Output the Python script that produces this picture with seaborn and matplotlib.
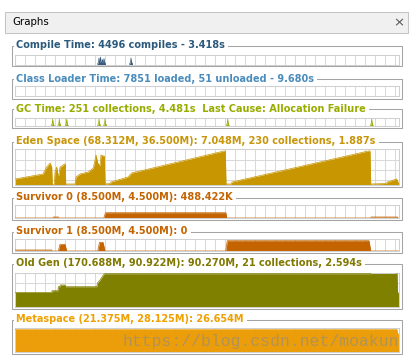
import numpy as np
import matplotlib
matplotlib.use("Agg")
import matplotlib.pyplot as plt
from matplotlib.patches import Rectangle
import seaborn as sns

# ---- data (x = time in sample pixels across the strip, y = level) ----
compile_peaks = [84, 85.5, 87.5, 89, 116]
compile_heights = [6.5, 7.5, 5, 6, 6.5]

gc_peaks = [37.7, 44.3, 51.7, 84, 90, 212.7, 356.7]
gc_heights = [7.3, 7.3, 7.3, 7.3, 7.3, 7.3, 7.3]

eden_t = [0, 28, 31, 35, 36.7, 37.3, 39.3, 40, 41.7, 43, 44, 45, 47, 49.3, 50.3,
          50.7, 60, 61, 65, 73.3, 78.3, 80, 81, 82.7, 85, 86, 88.3, 89.3, 90,
          95, 96, 113, 116.7, 209, 210.3, 211, 216, 217, 353.3, 355, 355.7,
          371, 372.3, 381.7, 382.7, 383.5]
eden_h = [6, 11, 17, 22, 18, 0.7, 0.7, 13, 18, 10, 10, 18, 19, 21, 21,
          1, 1, 8, 11, 13, 17, 25, 30, 22, 19, 30, 29, 29, 1,
          1.5, 3, 8, 12, 34, 34, 1, 1, 3, 34, 34, 1,
          1.5, 3, 6, 3, 3]

s0_t = [0, 38, 38.3, 43.3, 43.6, 88.8, 90.5, 210.8, 211.8, 355.8, 356.1, 382.3, 382.6, 383.5]
s0_h = [0, 0, 1, 1, 0, 0, 5.3, 5.3, 0, 0, 1, 1, 0, 0]

s1_t = [0, 36.7, 37, 43.3, 45, 50, 51.7, 82.7, 84.5, 88, 90, 210.7, 212.3, 354, 355.7, 383.5]
s1_h = [1, 1, 0, 0, 6.7, 6.7, 0, 0, 8.7, 8.7, 0, 0, 10.3, 10.3, 0, 0]

old_t = [0, 36.7, 37, 43, 43.3, 45, 45.3, 50, 50.3, 81.7, 82.7, 85, 88.3, 89.3,
         355.7, 356, 382, 382.5, 383.5]
old_h = [14.3, 14.3, 16, 16, 20, 20, 21.7, 21.7, 20, 20, 24, 26.7, 31.7, 33,
         33, 34, 34, 14, 14]

meta_t = [0, 382, 382.5, 383.5]
meta_h = [22.2, 22.2, 18, 18]

titles = [
    "Compile Time: 4496 compiles - 3.418s",
    "Class Loader Time: 7851 loaded, 51 unloaded - 9.680s",
    "GC Time: 251 collections, 4.481s  Last Cause: Allocation Failure",
    "Eden Space (68.312M, 36.500M): 7.048M, 230 collections, 1.887s",
    "Survivor 0 (8.500M, 4.500M): 488.422K",
    "Survivor 1 (8.500M, 4.500M): 0",
    "Old Gen (170.688M, 90.922M): 90.270M, 21 collections, 2.594s",
    "Metaspace (21.375M, 28.125M): 26.654M",
]
title_colors = ["#2c5a7c", "#4a8cbc", "#98ac00", "#c8960a",
                "#c46400", "#c46400", "#807800", "#f0a000"]
fill_colors = ["#34587a", None, "#98ac00", "#c89600",
               "#c46400", "#c46400", "#808000", "#ec9e0a"]

# layout in screen pixels: (box_top, box_bottom, plot_top, plot_bottom)
layout = [
    (45.5, 66, 55, 64.5),
    (78.5, 99, 86, 96),
    (108.5, 128, 118, 126.3),
    (141.5, 187, 149.5, 185),
    (197.5, 220, 205, 218),
    (231.5, 253, 239.3, 251),
    (263.5, 309, 272.7, 306.7),
    (319.5, 354, 328.3, 351.7),
]

W, H = 413, 361
sns.set_style("white")
plt.rcParams["font.family"] = ["DejaVu Sans"]

fig = plt.figure(figsize=(W / 100, H / 100), dpi=100)
bg = fig.add_axes([0, 0, 1, 1])
bg.set_xlim(0, W)
bg.set_ylim(H, 0)
bg.axis("off")

# tab header
bg.add_patch(Rectangle((4.5, 11.5), 403.5, 21, fc="#f0f0f0", ec="#c4c4c4", lw=0.75))
bg.text(12, 22, "Graphs", fontsize=7.4, va="center", ha="left", color="#000000")
bg.text(399, 22.5, "\u00d7", fontsize=9.5, va="center", ha="center", color="#555555")

X0, X1 = 15, 398.5
xmax = 383.5


def strip_axes(top, bottom):
    ax = fig.add_axes([X0 / W, 1 - bottom / H, (X1 - X0) / W, (bottom - top) / H])
    hpx = bottom - top
    ax.set_xlim(0, xmax)
    ax.set_ylim(0, hpx)
    ax.set_xticks(np.arange(0, xmax, 10))
    if hpx > 20:
        ax.set_yticks(hpx - np.arange(10.3, hpx, 10.3))
    else:
        ax.set_yticks([])
    ax.tick_params(length=0, labelbottom=False, labelleft=False)
    ax.grid(True, color="#d9d9d9", lw=0.75)
    ax.set_axisbelow(True)
    for s in ax.spines.values():
        s.set_color("#d0d0d0")
        s.set_linewidth(0.75)
    ax.set_xlabel("")
    ax.set_ylabel("")
    return ax


def draw_area(ax, t, h, color):
    ax.fill_between(t, 0, h, color=color, lw=0, zorder=2)
    sns.lineplot(x=t, y=h, ax=ax, color=color, lw=0.5, sort=False,
                 estimator=None, zorder=3)
    ax.set_xlabel("")
    ax.set_ylabel("")


def draw_spikes(ax, peaks, heights, color):
    for p, hh in zip(peaks, heights):
        tt = [p - 1.6, p - 0.4, p, p + 0.4, p + 1.6]
        yy = [0, hh * 0.45, hh, hh * 0.45, 0]
        draw_area(ax, tt, yy, color)


series = {
    0: ("spikes", compile_peaks, compile_heights),
    2: ("spikes", gc_peaks, gc_heights),
    3: ("area", eden_t, eden_h),
    4: ("area", s0_t, s0_h),
    5: ("area", s1_t, s1_h),
    6: ("area", old_t, old_h),
    7: ("area", meta_t, meta_h),
}

for i, (btop, bbot, ptop, pbot) in enumerate(layout):
    bg.add_patch(Rectangle((11.5, btop), 390, bbot - btop, fc="none",
                           ec="#a4a4a4", lw=0.75))
    bg.text(16.5, btop, titles[i], fontsize=7.0, fontweight="bold",
            color=title_colors[i], va="center", ha="left",
            bbox=dict(boxstyle="square,pad=0.3", fc="white", ec="none"))
    ax = strip_axes(ptop, pbot)
    if i in series:
        kind, a, b = series[i]
        if kind == "spikes":
            draw_spikes(ax, a, b, fill_colors[i])
        else:
            draw_area(ax, a, b, fill_colors[i])
    if i == 7:
        ax.text(107.7, (pbot - ptop) * 0.42, "https://blog.csdn.net/moakun",
                family="Liberation Mono", fontsize=11.8, color="#8a8a8a",
                alpha=0.6, va="center", ha="left", zorder=5, clip_on=True)

fig.savefig("out.png", dpi=100)
plt.close(fig)
